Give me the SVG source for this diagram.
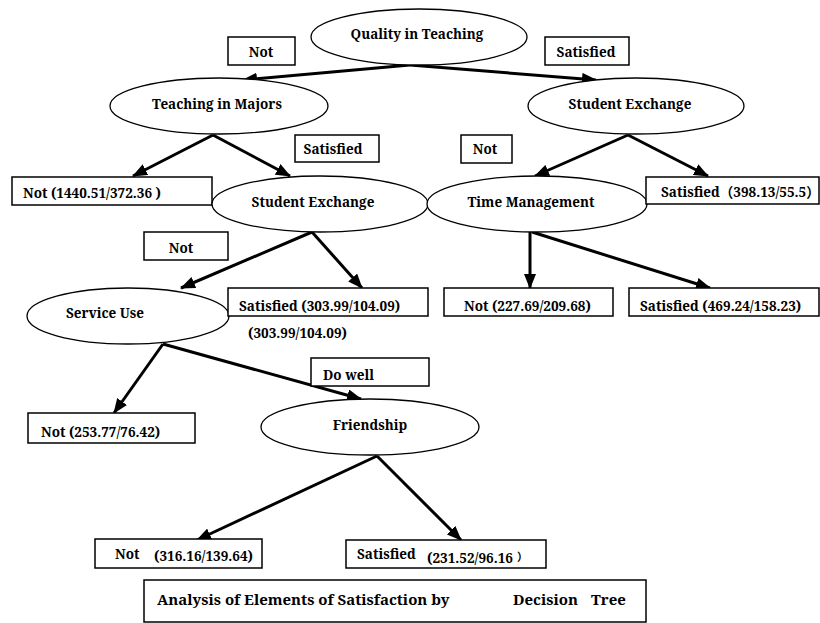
<svg xmlns="http://www.w3.org/2000/svg" width="820" height="623" viewBox="0 0 820 623">
<defs>
<marker id="ah" markerUnits="userSpaceOnUse" markerWidth="16" markerHeight="12" refX="14" refY="6" orient="auto">
<path d="M0,0 L15,6 L0,12 Z" fill="#000"/>
</marker>
<style>
.n{fill:#fff;stroke:#000;stroke-width:1.3}
.b{fill:#fff;stroke:#000;stroke-width:1.5}
.m{text-anchor:middle}
.c line{stroke:#000;stroke-width:3;marker-end:url(#ah)}
</style>
</defs>
<rect width="820" height="623" fill="#fff"/>
<g class="c" id="connectors">
<line x1="410" y1="65" x2="243" y2="80"/>
<line x1="410" y1="65" x2="596" y2="80"/>
<line x1="213" y1="135" x2="133" y2="176"/>
<line x1="213" y1="135" x2="290" y2="176"/>
<line x1="628" y1="135" x2="535" y2="176"/>
<line x1="628" y1="135" x2="708" y2="176"/>
<line x1="312" y1="232" x2="181" y2="288"/>
<line x1="312" y1="232" x2="362" y2="288"/>
<line x1="530" y1="232" x2="530" y2="288"/>
<line x1="532" y1="232" x2="710" y2="288"/>
<line x1="163" y1="344" x2="114" y2="413"/>
<line x1="163" y1="344" x2="361" y2="399"/>
<line x1="377" y1="456" x2="197" y2="540"/>
<line x1="377" y1="456" x2="461" y2="540"/>
</g>
<g font-family="'Noto Serif', 'Liberation Serif', 'Noto Sans CJK SC', serif" font-weight="bold" font-size="13.5" fill="#000">
<g id="n-quality"><ellipse class="n" cx="419" cy="37" rx="108" ry="28"/><text class="m" x="417" y="39">Quality in Teaching</text></g>
<g id="l-not1"><rect class="b" x="228" y="37" width="67" height="28"/><text class="m" x="261" y="57">Not</text></g>
<g id="l-sat1"><rect class="b" x="545" y="37" width="84" height="28"/><text class="m" x="586" y="57">Satisfied</text></g>
<g id="n-majors"><ellipse class="n" cx="219" cy="106" rx="109" ry="28"/><text class="m" x="217" y="109">Teaching in  Majors</text></g>
<g id="n-exch1"><ellipse class="n" cx="636" cy="106" rx="108" ry="28"/><text class="m" x="630" y="109">Student Exchange</text></g>
<g id="l-sat2"><rect class="b" x="295" y="135" width="84" height="27"/><text class="m" x="333" y="154">Satisfied</text></g>
<g id="l-not2"><rect class="b" x="461" y="135" width="51" height="28"/><text class="m" x="485" y="154">Not</text></g>
<g id="leaf1"><rect class="b" x="12" y="177" width="200" height="28"/><text x="23" y="198">Not (1440.51/372.36 )</text></g>
<g id="n-exch2"><ellipse class="n" cx="320" cy="204" rx="108" ry="28"/><text class="m" x="313" y="207">Student Exchange</text></g>
<g id="n-time"><ellipse class="n" cx="537" cy="204" rx="110" ry="28"/><text class="m" x="531" y="207">Time Management</text></g>
<g id="leaf2"><rect class="b" x="646" y="177" width="173" height="27"/><text x="661" y="197">Satisfied（398.13/55.5）</text></g>
<g id="l-not3"><rect class="b" x="144" y="232" width="84" height="28"/><text class="m" x="181" y="253">Not</text></g>
<g id="n-service"><ellipse class="n" cx="128" cy="316" rx="101" ry="28"/><text class="m" x="105" y="318">Service Use</text></g>
<g id="leaf3"><rect class="b" x="228" y="288" width="200" height="28"/><text x="239" y="311">Satisfied (303.99/104.09)</text><text x="248" y="338">(303.99/104.09)</text></g>
<g id="leaf4"><rect class="b" x="444" y="288" width="169" height="28"/><text x="464" y="311">Not (227.69/209.68)</text></g>
<g id="leaf5"><rect class="b" x="629" y="288" width="190" height="28"/><text x="640" y="311">Satisfied (469.24/158.23)</text></g>
<g id="l-dowell"><rect class="b" x="311" y="358" width="118" height="28"/><text x="323" y="380">Do well</text></g>
<g id="leaf6"><rect class="b" x="28" y="413" width="167" height="30"/><text x="41" y="437">Not (253.77/76.42)</text></g>
<g id="n-friend"><ellipse class="n" cx="370" cy="427" rx="109" ry="28"/><text class="m" x="370" y="430">Friendship</text></g>
<g id="leaf7"><rect class="b" x="95" y="539" width="167" height="29"/><text x="115" y="559">Not</text><text x="154" y="561">(316.16/139.64)</text></g>
<g id="leaf8"><rect class="b" x="346" y="540" width="200" height="28"/><text x="357" y="559">Satisfied</text><text x="427" y="563">(231.52/96.16</text><text x="517" y="561" font-size="11">）</text></g>
<g id="title"><rect class="b" x="144" y="580" width="502" height="42"/><text x="157" y="605" font-size="15">Analysis of Elements of Satisfaction by</text><text x="513" y="605" font-size="15">Decision</text><text x="591" y="605" font-size="15">Tree</text></g>
</g>
</svg>
